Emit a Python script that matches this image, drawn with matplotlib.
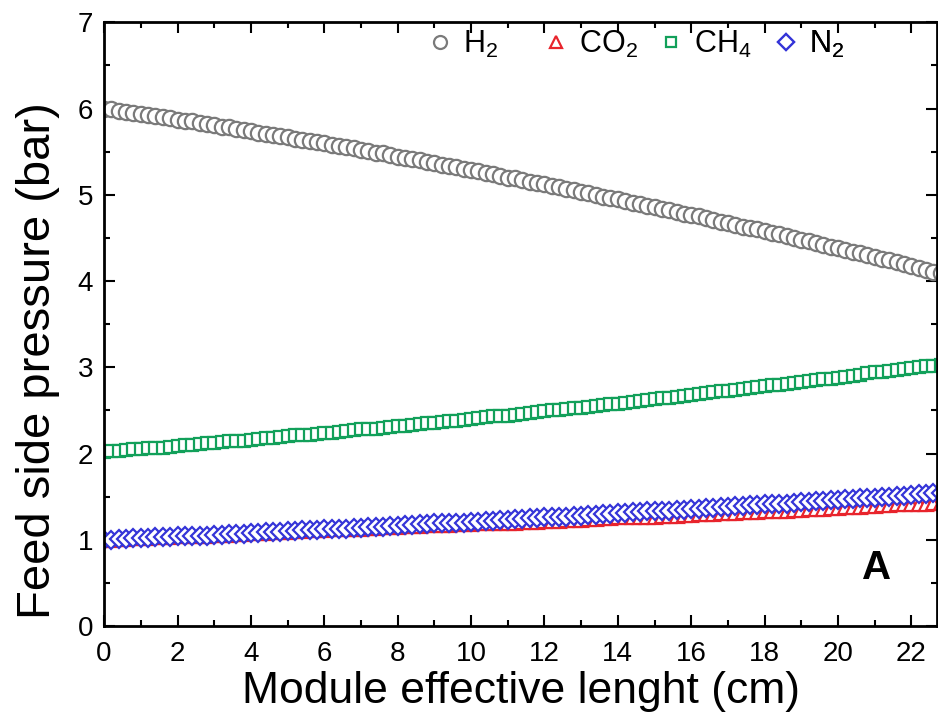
import numpy as np
import matplotlib
matplotlib.use('Agg')
import matplotlib.pyplot as plt
from matplotlib.ticker import MultipleLocator

plt.rcParams['font.family'] = ['Liberation Sans', 'DejaVu Sans']
plt.rcParams['mathtext.default'] = 'regular'

# module length grid (cm), one point every 0.2 cm
length = np.round(np.arange(116) * 0.2, 1)

h2 = [6.00, 5.99, 5.97, 5.96, 5.95, 5.94, 5.92, 5.91, 5.90, 5.89,
      5.87, 5.86, 5.85, 5.83, 5.82, 5.81, 5.79, 5.78, 5.76, 5.75,
      5.74, 5.72, 5.71, 5.69, 5.68, 5.67, 5.65, 5.64, 5.62, 5.61,
      5.60, 5.58, 5.57, 5.55, 5.54, 5.52, 5.51, 5.49, 5.48, 5.46,
      5.44, 5.43, 5.41, 5.40, 5.38, 5.37, 5.35, 5.33, 5.32, 5.30,
      5.29, 5.27, 5.25, 5.24, 5.22, 5.20, 5.19, 5.17, 5.15, 5.14,
      5.12, 5.10, 5.09, 5.07, 5.05, 5.03, 5.02, 5.00, 4.98, 4.96,
      4.95, 4.93, 4.91, 4.89, 4.87, 4.86, 4.84, 4.82, 4.80, 4.78,
      4.77, 4.75, 4.73, 4.71, 4.69, 4.67, 4.65, 4.63, 4.61, 4.60,
      4.58, 4.56, 4.54, 4.52, 4.50, 4.48, 4.46, 4.44, 4.42, 4.40,
      4.38, 4.36, 4.34, 4.32, 4.30, 4.28, 4.26, 4.24, 4.22, 4.20,
      4.17, 4.15, 4.13, 4.11, 4.09, 4.07]

co2 = [1.00, 1.00, 1.01, 1.01, 1.02, 1.02, 1.02, 1.03, 1.03, 1.03,
       1.04, 1.04, 1.04, 1.05, 1.05, 1.06, 1.06, 1.06, 1.07, 1.07,
       1.08, 1.08, 1.08, 1.09, 1.09, 1.09, 1.10, 1.10, 1.11, 1.11,
       1.11, 1.12, 1.12, 1.13, 1.13, 1.13, 1.14, 1.14, 1.15, 1.15,
       1.15, 1.16, 1.16, 1.16, 1.17, 1.17, 1.17, 1.17, 1.18, 1.18,
       1.18, 1.19, 1.19, 1.19, 1.20, 1.20, 1.20, 1.21, 1.21, 1.21,
       1.22, 1.22, 1.22, 1.23, 1.23, 1.23, 1.24, 1.24, 1.25, 1.25,
       1.26, 1.26, 1.26, 1.27, 1.27, 1.27, 1.28, 1.28, 1.28, 1.29,
       1.29, 1.30, 1.30, 1.30, 1.31, 1.31, 1.31, 1.32, 1.32, 1.32,
       1.33, 1.33, 1.34, 1.34, 1.35, 1.35, 1.36, 1.36, 1.36, 1.37,
       1.37, 1.38, 1.38, 1.38, 1.39, 1.39, 1.40, 1.40, 1.41, 1.41,
       1.42, 1.42, 1.42, 1.43, 1.43, 1.44]

ch4 = [2.02, 2.03, 2.03, 2.04, 2.05, 2.05, 2.06, 2.07, 2.07, 2.08,
       2.09, 2.10, 2.10, 2.11, 2.12, 2.12, 2.13, 2.14, 2.15, 2.15,
       2.16, 2.17, 2.18, 2.18, 2.19, 2.20, 2.21, 2.21, 2.22, 2.23,
       2.24, 2.24, 2.25, 2.26, 2.27, 2.28, 2.28, 2.29, 2.30, 2.31,
       2.32, 2.32, 2.33, 2.34, 2.35, 2.36, 2.37, 2.38, 2.38, 2.39,
       2.40, 2.41, 2.42, 2.43, 2.44, 2.44, 2.45, 2.46, 2.47, 2.48,
       2.49, 2.50, 2.51, 2.52, 2.53, 2.53, 2.54, 2.55, 2.56, 2.57,
       2.58, 2.59, 2.60, 2.61, 2.62, 2.63, 2.64, 2.65, 2.66, 2.67,
       2.68, 2.69, 2.70, 2.71, 2.72, 2.73, 2.74, 2.75, 2.76, 2.77,
       2.78, 2.79, 2.80, 2.81, 2.82, 2.83, 2.84, 2.85, 2.86, 2.87,
       2.88, 2.89, 2.90, 2.91, 2.93, 2.94, 2.95, 2.96, 2.97, 2.98,
       2.99, 3.00, 3.01, 3.02, 3.03, 3.05]

n2 = [1.00, 1.00, 1.01, 1.01, 1.02, 1.02, 1.02, 1.03, 1.03, 1.03,
      1.04, 1.04, 1.05, 1.05, 1.05, 1.06, 1.06, 1.07, 1.07, 1.07,
      1.08, 1.08, 1.09, 1.09, 1.09, 1.10, 1.10, 1.11, 1.11, 1.11,
      1.12, 1.12, 1.13, 1.13, 1.14, 1.14, 1.15, 1.15, 1.15, 1.16,
      1.16, 1.17, 1.17, 1.18, 1.18, 1.19, 1.19, 1.19, 1.20, 1.20,
      1.21, 1.21, 1.22, 1.22, 1.23, 1.23, 1.24, 1.24, 1.25, 1.25,
      1.26, 1.26, 1.27, 1.27, 1.28, 1.28, 1.29, 1.29, 1.30, 1.30,
      1.31, 1.31, 1.32, 1.32, 1.33, 1.33, 1.34, 1.34, 1.35, 1.35,
      1.36, 1.36, 1.37, 1.37, 1.38, 1.38, 1.39, 1.39, 1.40, 1.40,
      1.41, 1.41, 1.42, 1.42, 1.43, 1.44, 1.44, 1.45, 1.45, 1.46,
      1.46, 1.47, 1.47, 1.48, 1.49, 1.49, 1.50, 1.50, 1.51, 1.51,
      1.52, 1.53, 1.53, 1.54, 1.54, 1.55]

labels = ['H$_2$', 'CO$_2$', 'CH$_4$', 'N$_2$']

fig = plt.figure(figsize=(9.38, 7.18), dpi=100)
ax = fig.add_axes([0.111, 0.128, 0.888, 0.841])

l1, = ax.plot(length, h2, 'o', ms=11, mfc='white', mec='#7a7a7a', mew=1.6)
l2, = ax.plot(length, co2, '^', ms=10, mfc='white', mec='#e8242c', mew=1.6)
l3, = ax.plot(length, ch4, 's', ms=9, mfc='white', mec='#12a05a', mew=1.6)
l4, = ax.plot(length, n2, 'D', ms=9, mfc='white', mec='#3434d8', mew=1.6)

ax.set_xlim(0, 22.7)
ax.set_ylim(0, 7)
ax.xaxis.set_major_locator(MultipleLocator(2))
ax.xaxis.set_minor_locator(MultipleLocator(1))
ax.yaxis.set_major_locator(MultipleLocator(1))
ax.yaxis.set_minor_locator(MultipleLocator(0.5))
ax.tick_params(which='both', direction='in', top=True, right=True,
               width=1.5, labelsize=20)
ax.tick_params(which='major', length=8)
ax.tick_params(axis='x', which='major', pad=11)
ax.tick_params(axis='y', which='major', pad=8)
ax.tick_params(which='minor', length=4)
for sp in ax.spines.values():
    sp.set_linewidth(2)

ax.set_xlabel('Module effective lenght (cm)', fontsize=32)
ax.xaxis.set_label_coords(0.5, -0.074, transform=ax.transAxes)
ax.xaxis.label.set_va('top')
ax.set_ylabel('Feed side pressure (bar)', fontsize=34)
ax.yaxis.set_label_coords(-0.053, 0.44, transform=ax.transAxes)

ax.text(21.05, 0.67, 'A', fontsize=29, fontweight='bold', ha='center',
        va='center')

# one legend per entry so the columns sit evenly spaced like the original
leg_x = [0.385, 0.524, 0.662, 0.800]
for h, lab, fx in zip([l1, l2, l3, l4], labels, leg_x):
    leg = ax.legend([h], [lab], loc='center left', frameon=False, fontsize=22,
                    markerscale=0.85, handletextpad=0.25, handlelength=1.0,
                    borderpad=0, borderaxespad=0, bbox_to_anchor=(fx, 0.963))
    ax.add_artist(leg)

fig.savefig('out.png', dpi=100)
